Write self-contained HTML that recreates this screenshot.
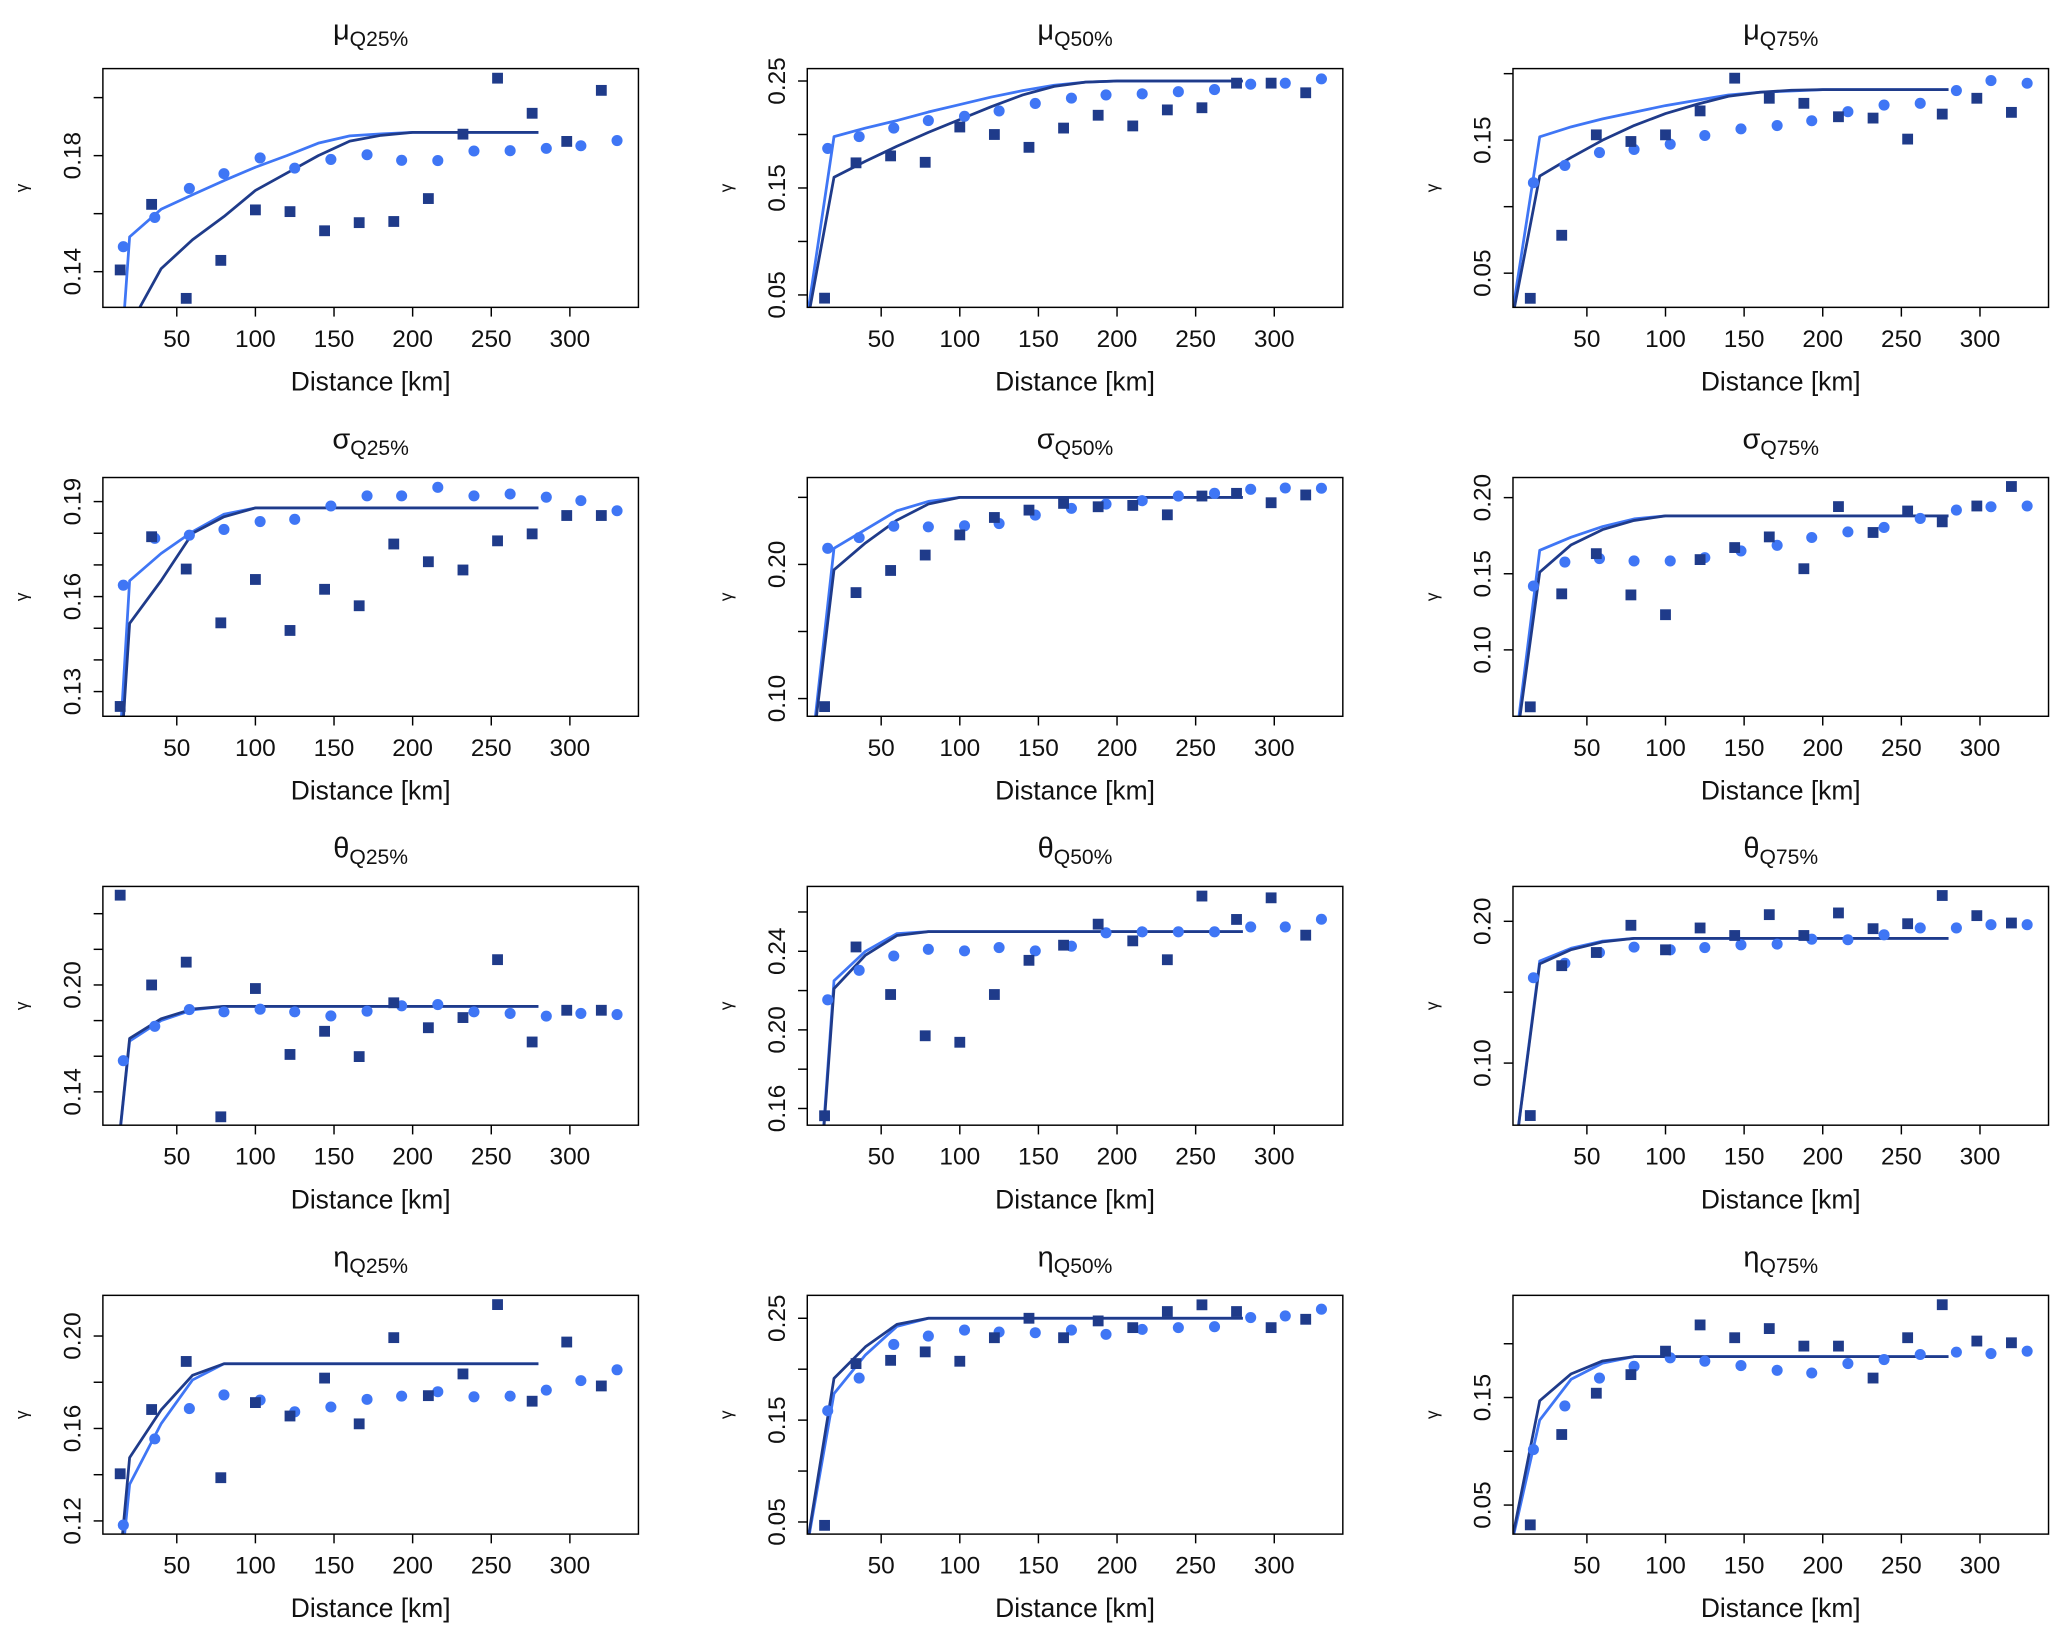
<!DOCTYPE html>
<html><head><meta charset="utf-8"><style>
html,body{margin:0;padding:0;background:#fff;width:2067px;height:1637px;overflow:hidden;}
svg{display:block;}
text{font-family:"Liberation Sans",Arial,sans-serif;fill:#111;}
</style></head><body>
<svg id="fig" xmlns="http://www.w3.org/2000/svg" width="2067" height="1637" viewBox="0 0 1567 1241"></svg>
<script>
const sqX=[14,34,56,78,100,122,144,166,188,210,232,254,276,298,320];
const ciX=[16,36,58,80,103,125,148,171,193,216,239,262,285,307,330];
const lnX=[0,20,40,60,80,100,120,140,160,180,200,220,240,260,280];

const titles=[["μ","Q25%"],["μ","Q50%"],["μ","Q75%"],["σ","Q25%"],["σ","Q50%"],["σ","Q75%"],["θ","Q25%"],["θ","Q50%"],["θ","Q75%"],["η","Q25%"],["η","Q50%"],["η","Q75%"]];
const yRanges=[[0.1277,0.210],[0.0384,0.2616],[0.0243,0.2038],[0.1222,0.1976],[0.0868,0.2648],[0.0564,0.2132],[0.1213,0.2553],[0.1515,0.273],[0.0562,0.2246],[0.1143,0.2176],[0.0381,0.2725],[0.023,0.245]];
const yTicks=[[0.14,0.16,0.18,0.20],[0.05,0.10,0.15,0.20,0.25],[0.05,0.10,0.15,0.20],[0.13,0.14,0.15,0.16,0.17,0.18,0.19],[0.10,0.15,0.20,0.25],[0.10,0.15,0.20],[0.14,0.16,0.18,0.20,0.22,0.24],[0.16,0.18,0.20,0.22,0.24,0.26],[0.10,0.15,0.20],[0.12,0.14,0.16,0.18,0.20],[0.05,0.10,0.15,0.20,0.25],[0.05,0.10,0.15,0.20]];
const yLabels=[["0.14","","0.18",""],["0.05","","0.15","","0.25"],["0.05","","0.15",""],["0.13","","","0.16","","","0.19"],["0.10","","0.20",""],["0.10","0.15","0.20"],["0.14","","","0.20","",""],["0.16","","0.20","","0.24",""],["0.10","","0.20"],["0.12","","0.16","","0.20"],["0.05","","0.15","","0.25"],["0.05","","0.15",""]];
const xTicks=[50,100,150,200,250,300];

const sqY=[
[0.1406,0.1632,0.1308,0.1439,0.1613,0.1607,0.1541,0.1569,0.1573,0.1652,0.1874,0.2067,0.1946,0.1849,0.2025],
[0.047,0.1735,0.180,0.174,0.207,0.200,0.188,0.206,0.218,0.208,0.223,0.225,0.248,0.248,0.239],
[0.0311,0.0785,0.154,0.149,0.154,0.172,0.1966,0.1815,0.1777,0.1676,0.1666,0.1508,0.1696,0.1815,0.1709],
[0.1253,0.1789,0.1687,0.1517,0.1654,0.1493,0.1623,0.1571,0.1766,0.1710,0.1684,0.1776,0.1798,0.1856,0.1856],
[0.094,0.179,0.1955,0.207,0.222,0.235,0.2405,0.2455,0.243,0.244,0.237,0.251,0.253,0.246,0.2518],
[0.0626,0.1368,0.1632,0.1361,0.1231,0.1593,0.1672,0.1742,0.1533,0.1941,0.1771,0.1912,0.1841,0.1945,0.2073],
[0.2504,0.200,0.2128,0.126,0.198,0.161,0.174,0.1598,0.190,0.176,0.1817,0.2142,0.168,0.1858,0.1858],
[0.1563,0.2422,0.218,0.197,0.1937,0.218,0.2354,0.2431,0.2538,0.2453,0.2357,0.2681,0.2562,0.2672,0.2482],
[0.063,0.1687,0.178,0.1972,0.1799,0.1953,0.19,0.2047,0.19,0.2059,0.1948,0.1983,0.2182,0.204,0.1988],
[0.1404,0.1682,0.189,0.1387,0.1712,0.1654,0.1818,0.162,0.1993,0.1742,0.1836,0.2136,0.1718,0.1974,0.1784],
[0.0467,0.2055,0.2087,0.217,0.2078,0.2309,0.25,0.2309,0.2474,0.2408,0.2566,0.2632,0.2566,0.2408,0.249],
[0.0316,0.1156,0.154,0.1713,0.1931,0.2175,0.2056,0.2141,0.1978,0.1978,0.1681,0.2056,0.2363,0.2025,0.2009]];
const ciY=[
[0.1486,0.1587,0.1687,0.1738,0.1792,0.1757,0.1787,0.1803,0.1784,0.1783,0.1816,0.1817,0.1825,0.1834,0.1852],
[0.187,0.198,0.206,0.213,0.217,0.222,0.229,0.234,0.237,0.238,0.240,0.242,0.247,0.248,0.252],
[0.118,0.131,0.1407,0.143,0.147,0.1535,0.1585,0.161,0.1646,0.1714,0.1764,0.1777,0.1873,0.1948,0.1928],
[0.1636,0.1784,0.1794,0.1812,0.1837,0.1844,0.1886,0.1918,0.1918,0.1945,0.1918,0.1924,0.1914,0.1903,0.1871],
[0.212,0.220,0.2285,0.228,0.2288,0.2305,0.2368,0.2418,0.245,0.2475,0.251,0.253,0.256,0.257,0.2568],
[0.1419,0.1577,0.160,0.1584,0.1584,0.1606,0.165,0.1687,0.1738,0.1775,0.1804,0.1863,0.1918,0.194,0.1945],
[0.1575,0.1768,0.1862,0.1849,0.1864,0.1849,0.1826,0.1853,0.1883,0.189,0.1849,0.184,0.1825,0.184,0.1834],
[0.2153,0.2303,0.2376,0.241,0.2402,0.2419,0.2402,0.2426,0.2494,0.2499,0.2499,0.2499,0.2524,0.2524,0.2563],
[0.1602,0.1704,0.178,0.1818,0.1799,0.1815,0.1834,0.1839,0.1874,0.187,0.1905,0.1953,0.1953,0.1976,0.1976],
[0.1182,0.1555,0.1686,0.1745,0.1723,0.1672,0.1693,0.1726,0.174,0.1759,0.1737,0.174,0.1766,0.1807,0.1854],
[0.1592,0.1913,0.2243,0.2325,0.2384,0.2365,0.2358,0.2384,0.2342,0.2391,0.2408,0.2417,0.2507,0.2523,0.2589],
[0.1016,0.1422,0.1681,0.179,0.1869,0.1838,0.1797,0.1753,0.1728,0.1816,0.1853,0.19,0.1922,0.1909,0.1931]];
const darkY=[
[0,0.1213,0.141,0.151,0.159,0.168,0.174,0.180,0.185,0.187,0.188,0.188,0.188,0.188,0.188],
[0,0.160,0.175,0.189,0.202,0.214,0.226,0.237,0.245,0.249,0.250,0.250,0.250,0.250,0.250],
[0,0.123,0.137,0.150,0.161,0.170,0.177,0.183,0.186,0.1875,0.188,0.188,0.188,0.188,0.188],
[0,0.1515,0.165,0.180,0.1852,0.188,0.188,0.188,0.188,0.188,0.188,0.188,0.188,0.188,0.188],
[0,0.196,0.216,0.233,0.245,0.250,0.250,0.250,0.250,0.250,0.250,0.250,0.250,0.250,0.250],
[0,0.151,0.169,0.179,0.185,0.188,0.188,0.188,0.188,0.188,0.188,0.188,0.188,0.188,0.188],
[0,0.170,0.181,0.1865,0.188,0.188,0.188,0.188,0.188,0.188,0.188,0.188,0.188,0.188,0.188],
[0,0.221,0.238,0.248,0.250,0.250,0.250,0.250,0.250,0.250,0.250,0.250,0.250,0.250,0.250],
[0,0.170,0.180,0.1855,0.188,0.188,0.188,0.188,0.188,0.188,0.188,0.188,0.188,0.188,0.188],
[0,0.1474,0.168,0.183,0.188,0.188,0.188,0.188,0.188,0.188,0.188,0.188,0.188,0.188,0.188],
[0,0.191,0.222,0.244,0.250,0.250,0.250,0.250,0.250,0.250,0.250,0.250,0.250,0.250,0.250],
[0,0.147,0.172,0.184,0.188,0.188,0.188,0.188,0.188,0.188,0.188,0.188,0.188,0.188,0.188]];
const lightY=[
[0,0.152,0.1615,0.1665,0.1714,0.176,0.180,0.1843,0.1868,0.1875,0.188,0.188,0.188,0.188,0.188],
[0,0.198,0.206,0.213,0.221,0.228,0.235,0.241,0.246,0.249,0.250,0.250,0.250,0.250,0.250],
[0,0.1525,0.160,0.166,0.171,0.176,0.180,0.184,0.186,0.187,0.188,0.188,0.188,0.188,0.188],
[0,0.165,0.1736,0.1805,0.186,0.188,0.188,0.188,0.188,0.188,0.188,0.188,0.188,0.188,0.188],
[0,0.212,0.226,0.240,0.247,0.250,0.250,0.250,0.250,0.250,0.250,0.250,0.250,0.250,0.250],
[0,0.1654,0.174,0.181,0.186,0.188,0.188,0.188,0.188,0.188,0.188,0.188,0.188,0.188,0.188],
[0,0.1685,0.180,0.186,0.188,0.188,0.188,0.188,0.188,0.188,0.188,0.188,0.188,0.188,0.188],
[0,0.225,0.240,0.249,0.250,0.250,0.250,0.250,0.250,0.250,0.250,0.250,0.250,0.250,0.250],
[0,0.172,0.181,0.186,0.188,0.188,0.188,0.188,0.188,0.188,0.188,0.188,0.188,0.188,0.188],
[0,0.1358,0.162,0.181,0.188,0.188,0.188,0.188,0.188,0.188,0.188,0.188,0.188,0.188,0.188],
[0,0.176,0.214,0.242,0.250,0.250,0.250,0.250,0.250,0.250,0.250,0.250,0.250,0.250,0.250],
[0,0.129,0.167,0.182,0.188,0.188,0.188,0.188,0.188,0.188,0.188,0.188,0.188,0.188,0.188]];

const NS="http://www.w3.org/2000/svg";
const svg=document.getElementById('fig');
const DARK="#1f3b8a", LIGHT="#3f76f5";
const colX=[78,612,1147], rowY=[52,362,672,982], BW=406, BH=181;
const XMIN=3, XMAX=343.6;
function mk(tag,attrs,parent){const e=document.createElementNS(NS,tag);for(const k in attrs)e.setAttribute(k,attrs[k]);(parent||svg).appendChild(e);return e;}

for(let p=0;p<12;p++){
  const L=colX[p%3], T=rowY[Math.floor(p/3)];
  const [y0,y1]=yRanges[p];
  const sx=v=>L+(v-XMIN)/(XMAX-XMIN)*BW;
  const sy=v=>T+BH-(v-y0)/(y1-y0)*BH;
  const g=mk('g',{});
  
  
  const t=mk('text',{x:L+BW/2,y:T-22,'text-anchor':'middle','font-size':22},g);
  
  
  const t1=mk('tspan',{},t);t1.textContent=titles[p][0];
  const t2=mk('tspan',{'font-size':16,dy:5},t);t2.textContent=titles[p][1];
  const cp=mk('clipPath',{id:'c'+p},g);
  mk('rect',{x:L,y:T,width:BW,height:BH},cp);
  const mkLine=(ys,col,name)=>{
    const d=lnX.map((x,i)=>(i?'L':'M')+sx(x).toFixed(2)+','+sy(ys[i]).toFixed(2)).join('');
    const pth=mk('path',{d:d,fill:'none',stroke:col,'stroke-width':2.1,'stroke-linejoin':'round','clip-path':'url(#c'+p+')'},g);
    
    
  };
  mkLine(lightY[p],LIGHT,'model-line-light');
  mkLine(darkY[p],DARK,'model-line-dark');
  ciX.forEach((x,i)=>{
    const c=mk('circle',{cx:sx(x),cy:sy(ciY[p][i]),r:4.2,fill:LIGHT},g);
    
    
  });
  sqX.forEach((x,i)=>{
    const r=mk('rect',{x:sx(x)-4.1,y:sy(sqY[p][i])-4.1,width:8.2,height:8.2,fill:DARK},g);
    
    
  });
  const b=mk('rect',{x:L,y:T,width:BW,height:BH,fill:'none',stroke:'#000','stroke-width':1.1},g);
  
  
  xTicks.forEach(v=>{
    const X=sx(v);
    mk('line',{x1:X,x2:X,y1:T+BH,y2:T+BH+7,stroke:'#000','stroke-width':1.1},g);
    const tx=mk('text',{x:X,y:T+BH+30,'text-anchor':'middle','font-size':18.5},g);
    
    
    tx.textContent=String(v);
  });
  const xl=mk('text',{x:L+BW/2,y:T+BH+63,'text-anchor':'middle','font-size':20},g);
  
  
  xl.textContent='Distance [km]';
  yTicks[p].forEach((v,i)=>{
    const Y=sy(v);
    mk('line',{x1:L-7,x2:L,y1:Y,y2:Y,stroke:'#000','stroke-width':1.1},g);
    if(yLabels[p][i]){
      const ty=mk('text',{x:0,y:0,'text-anchor':'middle','font-size':18.5,transform:'translate('+(L-17)+','+Y+') rotate(-90)'},g);
      
      
      ty.textContent=yLabels[p][i];
    }
  });
  const yl=mk('text',{x:0,y:0,'text-anchor':'middle','font-size':13,transform:'translate('+(L-57)+','+(T+BH/2)+') rotate(-90)'},g);
  
  
  yl.textContent='γ';
}
</script>
</body></html>
